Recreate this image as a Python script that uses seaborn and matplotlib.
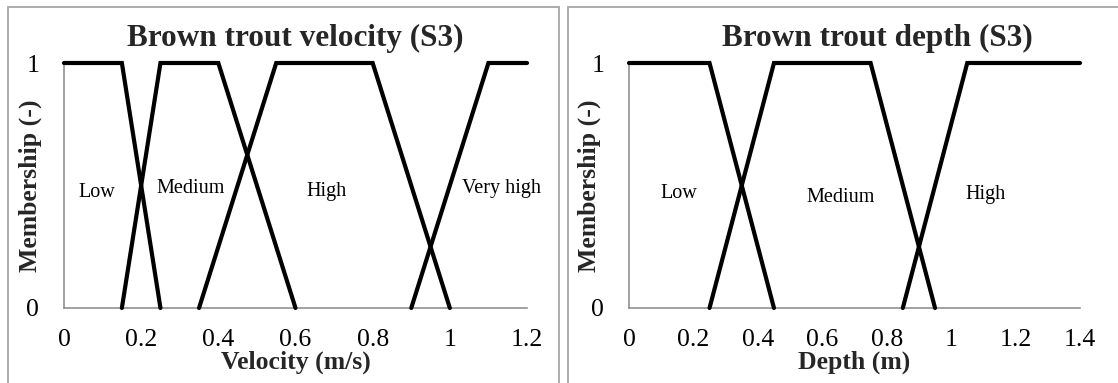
import matplotlib
matplotlib.use("Agg")
import matplotlib.pyplot as plt
import seaborn as sns
import pandas as pd
from matplotlib.patches import Rectangle

# ---------------- data ----------------
vel_low_x = [0, 0.15, 0.25]
vel_low_y = [1, 1, 0]
vel_med_x = [0.15, 0.25, 0.4, 0.6]
vel_med_y = [0, 1, 1, 0]
vel_high_x = [0.35, 0.55, 0.8, 1.0]
vel_high_y = [0, 1, 1, 0]
vel_vhigh_x = [0.9, 1.1, 1.2]
vel_vhigh_y = [0, 1, 1]

dep_low_x = [0, 0.25, 0.45]
dep_low_y = [1, 1, 0]
dep_med_x = [0.25, 0.45, 0.75, 0.95]
dep_med_y = [0, 1, 1, 0]
dep_high_x = [0.85, 1.05, 1.4]
dep_high_y = [0, 1, 1]

vel_labels = ["Low", "Medium", "High", "Very high"]
vel_label_x = [0.085, 0.327, 0.68, 1.133]
vel_label_y = [0.453, 0.469, 0.457, 0.469]
dep_labels = ["Low", "Medium", "High"]
dep_label_x = [0.155, 0.658, 1.108]
dep_label_y = [0.449, 0.433, 0.445]

vel_xticks = [0, 0.2, 0.4, 0.6, 0.8, 1, 1.2]
vel_xticklabels = ["0", "0.2", "0.4", "0.6", "0.8", "1", "1.2"]
dep_xticks = [0, 0.2, 0.4, 0.6, 0.8, 1, 1.2, 1.4]
dep_xticklabels = ["0", "0.2", "0.4", "0.6", "0.8", "1", "1.2", "1.4"]
yticks = [0, 1]
yticklabels = ["0", "1"]

titles = ["Brown trout velocity (S3)", "Brown trout depth (S3)"]
xlabels = ["Velocity (m/s)", "Depth (m)"]
ylabel = "Membership (-)"

# ---------------- style ----------------
sns.set_theme(style="white")
plt.rcParams["font.family"] = ["Liberation Serif", "DejaVu Serif"]

W, H = 1118, 383
fig = plt.figure(figsize=(W / 100, H / 100), dpi=100)

GRAY = "#888888"


def px_ax(x0, x1, y_top, y_bot):
    return [x0 / W, 1 - y_bot / H, (x1 - x0) / W, (y_bot - y_top) / H]


ax1 = fig.add_axes(px_ax(64, 527, 63, 308))
ax2 = fig.add_axes(px_ax(629, 1080, 63, 308))

# panel frames
fig.patches.append(Rectangle((8 / W, -0.1), (559 - 8) / W, 1 - 7 / H + 0.1,
                             transform=fig.transFigure, fill=False,
                             edgecolor="#a6a6a6", lw=1.3))
fig.patches.append(Rectangle((568 / W, -0.1), 0.6, 1 - 7 / H + 0.1,
                             transform=fig.transFigure, fill=False,
                             edgecolor="#a6a6a6", lw=1.3))


def series_df(xs, ys):
    return pd.DataFrame({"x": xs, "y": ys})


panels = [
    (ax1, [(vel_low_x, vel_low_y), (vel_med_x, vel_med_y),
           (vel_high_x, vel_high_y), (vel_vhigh_x, vel_vhigh_y)],
     vel_labels, vel_label_x, vel_label_y, vel_xticks, vel_xticklabels,
     (0, 1.2), titles[0], xlabels[0], 0.5, -0.047),
    (ax2, [(dep_low_x, dep_low_y), (dep_med_x, dep_med_y),
           (dep_high_x, dep_high_y)],
     dep_labels, dep_label_x, dep_label_y, dep_xticks, dep_xticklabels,
     (0, 1.4), titles[1], xlabels[1], 0.55, -0.062),
]

for (ax, series, labs, lx, ly, xt, xtl, xlim, title, xlabel, tx, ylx) in panels:
    for xs, ys in series:
        sns.lineplot(data=series_df(xs, ys), x="x", y="y", ax=ax, sort=False,
                     estimator=None, color="black", lw=3.0, clip_on=False,
                     solid_joinstyle="miter", zorder=3)
    for t, x, y in zip(labs, lx, ly):
        ax.text(x, y, t, ha="center", va="baseline", fontsize=14.5,
                color="black")
    ax.set_xlim(*xlim)
    ax.set_ylim(0, 1)
    ax.set_xticks(xt)
    ax.set_xticklabels(xtl)
    ax.set_yticks(yticks)
    ax.set_yticklabels(yticklabels)
    for side in ["top", "right"]:
        ax.spines[side].set_visible(False)
    for side in ["left", "bottom"]:
        ax.spines[side].set_color(GRAY)
        ax.spines[side].set_linewidth(1.1)
        ax.spines[side].set_zorder(1)
    ax.tick_params(axis="both", direction="out", length=5.8, width=1.1,
                   color=GRAY, labelsize=18.5, labelcolor="black", pad=9)
    ax.tick_params(axis="y", pad=12)
    ax.set_xlabel(xlabel, fontsize=18.5, fontweight="bold", labelpad=0)
    ax.set_ylabel(ylabel, fontsize=18.5, fontweight="bold")
    ax.yaxis.set_label_coords(ylx, 0.5)
    ax.set_title(title, fontsize=22.5, fontweight="bold", x=tx, y=1.07,
                 pad=0)
    ax.set_facecolor("none")
    ax.grid(False)

fig.savefig("out.png", dpi=100, facecolor="white")
